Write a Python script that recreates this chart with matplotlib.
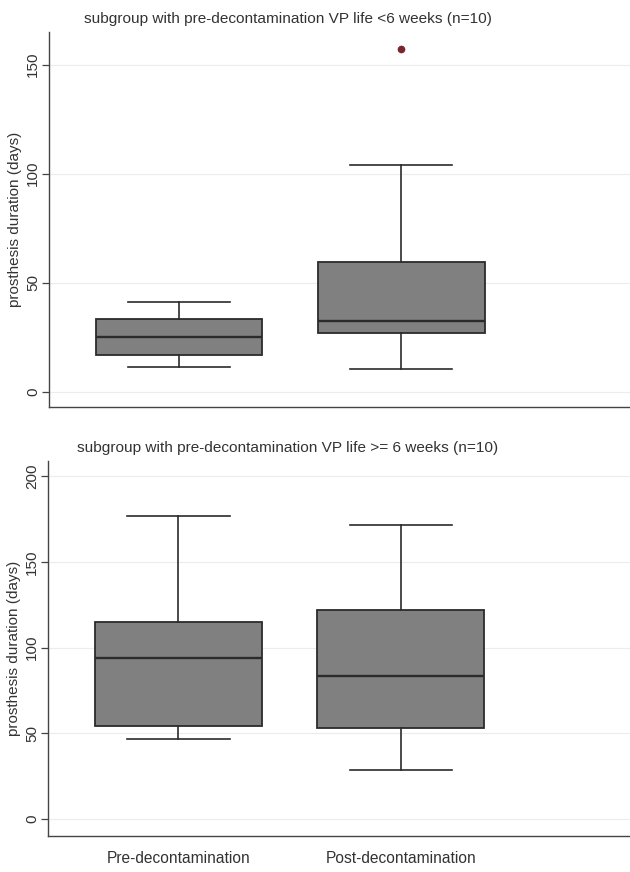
import matplotlib
matplotlib.use("Agg")
import matplotlib.pyplot as plt

plt.rcParams["font.family"] = ["Liberation Sans", "DejaVu Sans"]

# Box statistics (days)
groups = ["Pre-decontamination", "Post-decontamination"]

short_title = "subgroup with pre-decontamination VP life <6 weeks (n=10)"
short_q1 = [16.8, 27.1]
short_med = [25.1, 32.3]
short_q3 = [33.3, 59.6]
short_lo = [11.3, 10.3]
short_hi = [41.1, 104.0]
short_out = [[], [157.2]]

long_title = "subgroup with pre-decontamination VP life >= 6 weeks (n=10)"
long_q1 = [54.1, 53.1]
long_med = [93.8, 83.3]
long_q3 = [114.9, 121.8]
long_lo = [46.9, 28.6]
long_hi = [176.6, 171.8]
long_out = [[], []]

box_face = "#808080"
edge = "#2b2b2b"
text_col = "#333333"


def make_stats(q1, med, q3, lo, hi, out):
    return [dict(med=med[i], q1=q1[i], q3=q3[i], whislo=lo[i], whishi=hi[i], fliers=out[i])
            for i in range(len(q1))]


def draw_panel(ax, stats, title, yticks, ylim):
    ax.bxp(stats, positions=[1, 2], widths=0.75, patch_artist=True,
           boxprops=dict(facecolor=box_face, edgecolor=edge, linewidth=1.3),
           medianprops=dict(color=edge, linewidth=1.7),
           whiskerprops=dict(color=edge, linewidth=1.2),
           capprops=dict(color=edge, linewidth=1.2),
           capwidths=0.46,
           flierprops=dict(marker="o", markersize=4.5, markerfacecolor="#7a2530",
                           markeredgecolor="#7a2530"))
    ax.set_xlim(0.414, 3.03)
    ax.set_ylim(*ylim)
    ax.set_yticks(yticks)
    ax.set_yticklabels([str(t) for t in yticks], rotation=90, va="center",
                       fontsize=11, color=text_col)
    ax.grid(axis="y", color="#ececec", linewidth=0.8)
    ax.set_axisbelow(True)
    for s in ["top", "right"]:
        ax.spines[s].set_visible(False)
    for s in ["left", "bottom"]:
        ax.spines[s].set_color("#444444")
        ax.spines[s].set_linewidth(1.0)
    ax.tick_params(axis="y", length=5, width=0.9, color="#444444", pad=1.5)
    ax.set_ylabel("prosthesis duration (days)", fontsize=11, color=text_col)
    ax.yaxis.set_label_coords(-0.046, 0.5)
    # title sits left of the axes centre in the reference
    ax.set_title(title, fontsize=11.1, color=text_col, pad=6.5, x=0.412)


fig = plt.figure(figsize=(6.3, 8.72), dpi=100)
ax1 = fig.add_axes([0.0778, 0.5333, 0.9222, 0.430])
ax2 = fig.add_axes([0.0762, 0.0413, 0.9238, 0.430])

draw_panel(ax1, make_stats(short_q1, short_med, short_q3, short_lo, short_hi, short_out),
           short_title, [0, 50, 100, 150], (-7, 165))
ax1.set_xticks([])

draw_panel(ax2, make_stats(long_q1, long_med, long_q3, long_lo, long_hi, long_out),
           long_title, [0, 50, 100, 150, 200], (-9.9, 208.9))
ax2.set_xticks([1, 2])
ax2.set_xticklabels(groups, fontsize=11.2, color=text_col)
ax2.tick_params(axis="x", length=0, pad=11)

fig.savefig("out.png", dpi=100)
